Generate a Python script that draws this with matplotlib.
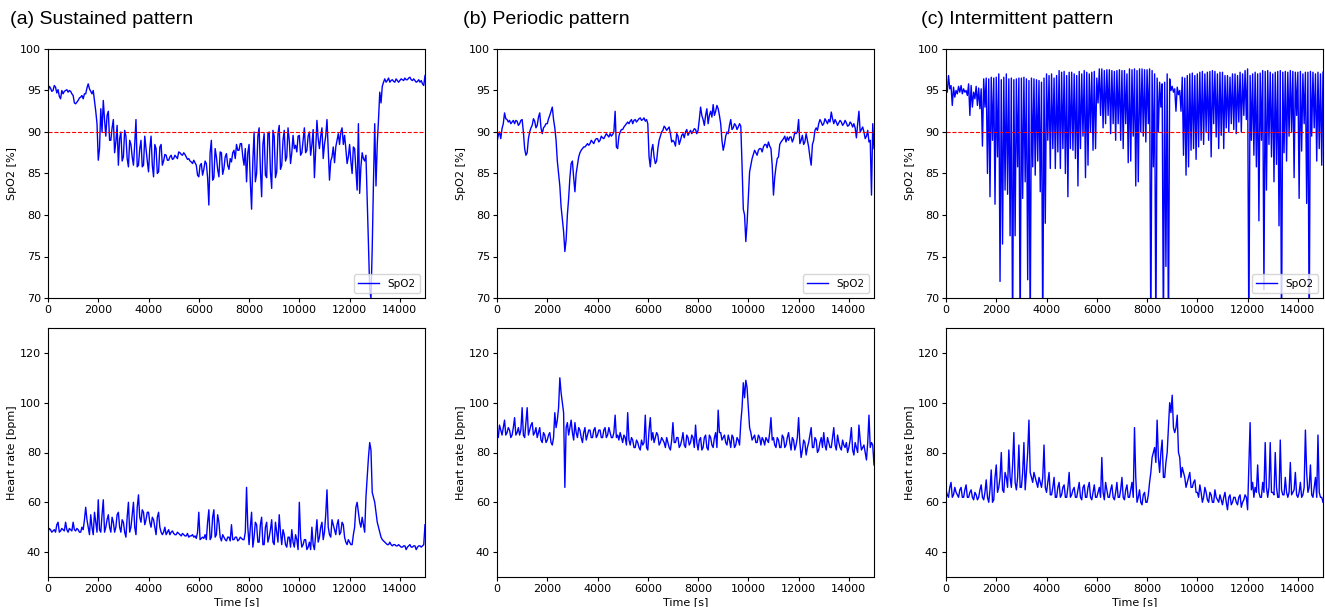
import numpy as np
import matplotlib
matplotlib.use("Agg")
import matplotlib.pyplot as plt

# time grid of the readings (s): values on the 100 s grid plus the
# in-between extremes read at the half steps
t = np.arange(0, 15001, 100)
t_half = np.arange(50, 15000, 100)

# (a) sustained pattern
spo2_a = [94.8, 95.3, 95.0, 95.4, 95.1, 94.0, 94.6, 95.0, 94.8, 94.9,
          94.4, 93.4, 93.8, 94.2, 94.0, 94.6, 95.8, 94.9, 95.0, 92.5,
          86.6, 92.8, 93.8, 89.5, 92.5, 89.0, 91.5, 88.8, 86.0, 90.0,
          87.0, 89.5, 85.8, 88.5, 86.0, 91.5, 86.0, 89.0, 86.0, 88.0,
          85.2, 89.5, 84.6, 88.0, 85.2, 88.5, 86.5, 87.2, 86.6, 87.2,
          86.8, 87.0, 87.6, 87.3, 87.5, 87.0, 86.8, 86.4, 86.6, 86.0,
          84.6, 86.2, 85.5, 86.2, 81.2, 89.0, 84.5, 87.0, 84.6, 87.5,
          85.6, 87.4, 85.5, 86.4, 87.8, 88.5, 87.8, 88.6, 86.0, 84.0,
          88.5, 80.7, 90.0, 85.0, 90.5, 82.2, 89.8, 84.5, 90.0, 83.2,
          89.5, 85.2, 90.8, 86.0, 90.2, 87.0, 89.0, 87.5, 88.0, 87.6,
          89.6, 87.5, 90.5, 87.8, 90.0, 88.5, 84.5, 91.4, 88.0, 90.5,
          88.5, 91.5, 84.2, 87.0, 86.3, 89.0, 88.5, 90.5, 89.6, 86.2,
          88.5, 85.0, 88.0, 83.0, 82.6, 87.5, 86.5, 82.0, 71.0, 76.0,
          91.0, 88.5, 94.8, 95.5, 96.4, 96.2, 96.0, 96.3, 96.0, 96.2,
          96.2, 96.3, 96.5, 96.3, 96.6, 96.2, 96.2, 96.1, 96.0, 95.8,
          96.8]
spo2_a_mid = [95.5, 94.9, 95.6, 94.7, 94.3, 95.0, 94.9, 95.1, 95.0, 94.6,
              93.5, 93.6, 94.1, 94.4, 94.6, 95.3, 95.2, 94.6, 93.8, 91.0,
              88.0, 90.0, 91.5, 92.0, 89.0, 90.5, 87.5, 90.8, 89.2, 86.5,
              90.2, 86.8, 89.0, 87.0, 88.5, 85.8, 88.0, 85.8, 89.5, 86.5,
              88.0, 86.0, 88.5, 85.0, 88.2, 86.0, 87.3, 86.6, 87.0, 86.7,
              87.2, 86.8, 87.5, 87.2, 87.3, 86.7, 86.5, 86.2, 86.3, 84.8,
              86.0, 84.8, 86.5, 84.5, 87.5, 84.2, 88.0, 85.5, 87.6, 84.9,
              87.0, 86.0, 86.8, 87.5, 86.8, 87.8, 88.6, 87.0, 88.0, 87.5,
              84.0, 86.5, 84.0, 89.5, 85.5, 88.5, 84.8, 89.8, 85.2, 90.2,
              84.5, 89.8, 85.5, 89.0, 86.5, 90.5, 86.2, 89.6, 88.4, 89.5,
              87.2, 89.0, 87.5, 89.5, 87.2, 90.3, 87.8, 89.2, 89.5, 86.8,
              89.5, 88.0, 86.5, 88.2, 88.2, 89.8, 90.0, 88.5, 88.0, 87.0,
              86.5, 88.2, 85.5, 91.0, 85.8, 86.8, 87.2, 76.5, 70.0, 84.0,
              83.5, 91.5, 93.5, 96.0, 96.0, 96.5, 96.2, 96.1, 96.4, 96.0,
              96.4, 96.2, 96.3, 96.5, 96.3, 96.4, 96.0, 96.3, 96.2, 95.6]
hr_a = [48, 49, 48.5, 48, 52, 48.5, 49, 52, 48, 49,
        52, 48.5, 49, 48, 49, 58, 50, 55, 47, 52,
        61, 48, 61, 50, 55, 48, 52, 50, 56, 48,
        52, 46, 60, 50, 60, 47, 63, 52, 56, 53,
        56, 50, 53, 47, 56, 48, 48, 47, 49, 48,
        47.5, 47, 47.5, 46.5, 47, 46.5, 46, 46.5, 46, 45.5,
        56, 45.5, 45.5, 45, 57, 46, 57, 47, 52, 44.5,
        46, 44.5, 46, 51, 45, 46, 45, 45.5, 45, 66,
        43, 56, 46, 51, 44, 54, 43, 52, 46, 53,
        43, 48, 55, 43, 47, 42, 46, 49, 42, 45,
        60, 42, 45, 41, 44, 50, 41, 53, 46, 52,
        48, 65, 47, 53, 49, 51, 47, 52, 46, 43,
        44, 43, 50, 60, 52, 54, 48, 70, 84, 64,
        60, 52, 48, 45, 44, 43, 44, 42.5, 43, 42.5,
        42.5, 42, 42.5, 42, 43, 42, 42.5, 42, 42.5, 42.5,
        51]
hr_a_mid = [49.5, 48, 49, 51, 48, 49.5, 48.5, 49, 49.5, 48.5,
            49, 49.5, 48, 50, 53, 53, 47, 50, 56, 48,
            49, 55, 48, 53, 50, 54, 48, 55, 50, 53,
            48, 54, 48, 55, 50, 58, 54, 57, 51, 56,
            52, 54, 50, 54, 50, 47, 50, 48, 47, 48.5,
            47, 48, 47, 47.5, 46.5, 47.5, 46.5, 47, 46.5, 48,
            45, 46, 47, 52, 45, 54, 46, 55, 46, 47,
            45, 46, 44.5, 45, 46, 44.5, 46, 45, 48, 50,
            50, 42, 52, 44, 51, 43, 50, 44, 49, 44,
            52, 44, 48, 49, 43, 46, 42, 44, 47, 41,
            46, 43, 45, 42, 41, 43, 47, 44, 50, 45,
            55, 50, 46, 51, 47, 53, 48, 51, 44, 45,
            43, 47, 58, 56, 50, 51, 62, 78, 81, 62,
            56, 50, 46, 44.5, 43.5, 43, 43, 43, 42.5, 43,
            42, 42.5, 41, 42.5, 42, 42.5, 41, 42.5, 42, 43]

# (b) periodic pattern
spo2_b = [88.8, 90.0, 90.4, 92.3, 91.5, 91.4, 91.2, 91.0, 91.3, 91.0,
          91.5, 88.0, 87.5, 90.0, 90.8, 91.3, 90.8, 92.3, 89.8, 90.7,
          91.0, 92.0, 93.0, 90.5, 86.5, 83.5, 79.5, 75.6, 80.0, 84.5,
          86.5, 82.8, 86.0, 87.5, 88.0, 88.2, 88.6, 88.6, 88.8, 89.0,
          89.2, 89.0, 89.3, 89.5, 89.6, 89.8, 89.7, 92.5, 88.0, 90.0,
          90.3, 90.8, 91.2, 91.3, 91.0, 91.5, 91.4, 91.7, 91.5, 91.3,
          91.0, 85.8, 88.5, 86.2, 88.0, 89.5, 90.2, 90.5, 90.4, 89.8,
          89.0, 88.3, 89.5, 89.0, 89.8, 90.0, 89.6, 90.2, 90.1, 90.3,
          90.2, 93.0, 91.5, 92.0, 91.0, 92.5, 93.3, 92.5, 92.8, 91.0,
          87.8, 89.5, 89.8, 91.5, 90.5, 90.8, 90.6, 90.7, 80.7, 76.8,
          82.0, 86.0, 87.3, 87.5, 87.8, 88.0, 88.2, 88.5, 88.8, 88.0,
          82.4, 85.8, 87.0, 88.8, 89.2, 88.8, 89.0, 89.4, 89.2, 89.8,
          91.5, 89.0, 88.5, 89.8, 88.2, 86.0, 89.0, 90.5, 91.0, 91.2,
          91.0, 91.3, 91.5, 92.4, 91.0, 91.2, 91.1, 91.2, 91.0, 91.1,
          90.8, 91.0, 91.0, 89.3, 92.5, 90.3, 90.0, 89.5, 88.8, 82.4,
          88.0]
spo2_b_mid = [89.6, 89.2, 91.0, 91.6, 91.2, 91.0, 91.4, 91.4, 90.8, 91.4,
              90.0, 87.2, 89.2, 90.5, 91.6, 90.5, 91.8, 90.5, 90.5, 91.0,
              91.6, 92.5, 91.5, 89.0, 85.0, 81.0, 78.0, 77.0, 82.0, 86.2,
              84.5, 85.0, 87.0, 87.8, 88.2, 88.4, 88.4, 89.0, 88.6, 89.2,
              88.8, 89.5, 89.2, 89.8, 89.4, 89.5, 90.0, 88.2, 89.5, 90.3,
              90.6, 91.0, 91.0, 91.5, 91.4, 91.2, 91.6, 91.4, 91.7, 91.5,
              87.0, 87.8, 87.0, 86.5, 89.0, 90.0, 90.7, 90.2, 90.6, 88.8,
              88.8, 89.8, 88.5, 89.6, 89.3, 90.3, 89.9, 89.8, 90.4, 89.8,
              91.5, 92.0, 90.8, 92.8, 92.0, 91.8, 92.0, 93.2, 92.0, 89.0,
              88.5, 90.0, 90.8, 90.3, 91.0, 90.3, 91.0, 86.0, 80.0, 79.0,
              85.2, 86.8, 87.8, 87.2, 88.0, 87.6, 88.5, 88.1, 88.3, 86.0,
              84.5, 86.8, 88.5, 89.0, 89.5, 89.4, 89.4, 88.8, 90.0, 90.0,
              88.6, 89.6, 88.8, 89.0, 87.0, 88.5, 90.2, 90.2, 91.5, 90.8,
              91.6, 91.0, 91.2, 91.6, 91.5, 90.8, 91.4, 90.8, 91.4, 90.7,
              91.2, 90.6, 90.5, 91.0, 90.0, 90.6, 89.2, 90.2, 89.0, 91.0]
hr_b = [88, 91, 87, 93, 88, 89, 87, 94, 88, 87,
        98, 86, 98, 89, 92, 88, 86, 90, 84, 87,
        85, 88, 83, 96, 93, 110, 100, 66, 92, 90,
        88, 92, 86, 89, 84, 90, 87, 89, 86, 90,
        87, 89, 86, 90, 87, 88, 86, 95, 87, 88,
        84, 86, 96, 83, 85, 82, 84, 81, 83, 95,
        81, 94, 88, 86, 87, 84, 85, 82, 84, 81,
        92, 84, 86, 83, 88, 82, 86, 84, 86, 91,
        81, 86, 82, 87, 81, 86, 82, 88, 97, 88,
        86, 84, 87, 82, 86, 83, 85, 92, 108, 109,
        98, 88, 86, 84, 87, 83, 85, 86, 84, 94,
        86, 82, 85, 82, 86, 83, 88, 81, 85, 83,
        94, 78, 85, 79, 84, 90, 82, 85, 81, 86,
        88, 81, 84, 82, 90, 81, 84, 81, 83, 84,
        82, 90, 79, 82, 91, 81, 83, 77, 95, 84,
        75]
hr_b_mid = [86, 89, 90, 87, 90, 86, 90, 87, 90, 89,
            87, 92, 87, 91, 87, 90, 88, 85, 88, 84,
            87, 84, 86, 90, 98, 104, 96, 90, 87, 93,
            85, 88, 90, 86, 88, 85, 89, 86, 89, 86,
            89, 86, 89, 86, 90, 86, 88, 86, 85, 86,
            87, 83, 85, 86, 82, 85, 82, 85, 84, 82,
            89, 85, 84, 88, 83, 86, 84, 86, 82, 85,
            84, 86, 82, 85, 83, 87, 83, 87, 82, 84,
            85, 81, 86, 82, 87, 83, 86, 82, 88, 85,
            87, 83, 85, 87, 82, 86, 83, 98, 102, 106,
            90, 85, 87, 84, 86, 86, 83, 85, 88, 85,
            83, 86, 82, 87, 82, 86, 84, 86, 81, 86,
            84, 81, 84, 82, 87, 82, 86, 80, 84, 82,
            83, 86, 82, 86, 83, 87, 82, 85, 82, 80,
            85, 81, 84, 80, 85, 82, 80, 84, 82, 83]

# (c) intermittent pattern
spo2_c = [95.0, 96.8, 95.6, 95.4, 95.0, 95.5, 95.6, 95.2, 95.0, 95.8,
          95.6, 94.8, 95.5, 95.3, 95.2, 96.4, 96.5, 96.4, 96.6, 96.5,
          96.6, 97.0, 96.3, 96.6, 97.0, 96.4, 96.5, 96.3, 96.4, 96.5,
          96.5, 96.6, 96.4, 96.2, 96.5, 96.4, 96.3, 96.2, 96.0, 96.5,
          97.0, 96.8, 97.0, 96.5, 96.8, 97.4, 97.2, 97.3, 96.8, 97.2,
          97.2, 97.0, 96.8, 97.3, 97.0, 97.4, 97.2, 97.0, 97.2, 97.3,
          96.5, 97.6, 97.6, 97.4, 97.5, 97.5, 97.4, 97.3, 97.4, 97.5,
          97.4, 97.4, 97.0, 97.6, 97.5, 97.6, 97.4, 97.6, 97.6, 97.5,
          97.5, 97.6, 97.4, 97.0, 96.5, 96.0, 95.8, 96.0, 97.0, 96.4,
          95.5, 95.2, 95.4, 95.0, 96.6, 96.5, 96.8, 97.0, 97.1, 96.8,
          97.0, 97.2, 97.3, 97.0, 97.2, 97.3, 97.4, 97.3, 97.0, 97.2,
          97.2, 96.8, 96.8, 96.6, 97.0, 97.0, 96.8, 97.2, 97.0, 97.4,
          97.6, 96.8, 97.0, 97.2, 97.0, 97.1, 97.4, 97.3, 97.4, 97.2,
          97.0, 97.2, 97.3, 97.4, 97.2, 97.3, 97.2, 97.4, 97.3, 97.2,
          97.2, 97.3, 97.0, 97.2, 97.2, 97.3, 97.2, 97.0, 97.2, 97.0,
          97.2]
spo2_c_mid = [94.8, 95.2, 93.2, 94.2, 94.6, 94.8, 94.6, 94.8, 94.4, 92.0,
              93.0, 94.0, 93.2, 92.8, 88.3, 93.0, 85.0, 82.2, 89.0, 81.3,
              87.0, 72.0, 76.5, 83.0, 82.5, 77.5, 65.0, 77.5, 85.8, 65.0,
              82.0, 84.0, 72.2, 65.0, 85.8, 84.8, 86.5, 82.8, 65.0, 79.0,
              89.0, 85.6, 88.0, 85.6, 87.6, 85.6, 88.0, 85.0, 82.2, 88.0,
              87.8, 86.8, 83.5, 88.0, 89.5, 84.5, 86.0, 90.0, 87.8, 88.0,
              93.5, 92.0, 90.5, 91.0, 92.0, 89.8, 91.0, 89.0, 91.0, 89.0,
              88.0, 91.0, 86.3, 86.5, 89.5, 83.5, 84.0, 90.0, 89.5, 88.8,
              91.0, 65.0, 85.8, 65.0, 90.0, 93.0, 65.0, 73.8, 65.0, 95.0,
              94.8, 92.5, 94.5, 92.5, 87.2, 84.8, 85.8, 87.8, 88.0, 86.7,
              88.2, 89.0, 88.5, 90.0, 89.0, 87.0, 91.0, 89.4, 88.0, 89.6,
              88.0, 90.5, 90.0, 91.0, 90.3, 89.8, 91.2, 90.0, 92.0, 91.5,
              65.0, 89.0, 87.2, 85.8, 79.3, 89.0, 71.0, 83.0, 88.5, 87.0,
              84.0, 86.1, 78.7, 65.0, 87.5, 86.5, 89.5, 90.0, 84.5, 92.0,
              82.0, 87.7, 91.0, 81.4, 65.0, 89.5, 90.5, 86.5, 88.0, 86.0]
hr_c = [65, 62, 68, 63, 64, 62, 66, 62, 67, 62,
        65, 61, 63, 62, 67, 61, 69, 60, 73, 61,
        75, 66, 80, 64, 70, 81, 66, 88, 65, 83,
        66, 84, 72, 93, 70, 72, 68, 70, 66, 83,
        64, 72, 63, 70, 62, 68, 63, 67, 62, 72,
        63, 66, 62, 68, 61, 67, 62, 68, 61, 67,
        62, 66, 78, 61, 65, 62, 67, 61, 68, 62,
        70, 61, 67, 62, 68, 90, 60, 65, 59, 64,
        60, 68, 78, 82, 93, 72, 85, 70, 80, 100,
        103, 88, 95, 78, 74, 70, 68, 72, 66, 69,
        64, 67, 60, 66, 61, 64, 60, 65, 61, 63,
        59, 64, 57, 63, 60, 62, 59, 63, 60, 63,
        57, 92, 68, 66, 75, 62, 68, 84, 62, 84,
        64, 80, 62, 85, 63, 70, 62, 76, 64, 72,
        62, 68, 63, 89, 64, 75, 62, 70, 87, 62,
        60]
hr_c_mid = [63, 66, 62, 66, 63, 65, 62, 65, 62, 64,
            62, 64, 61, 65, 62, 64, 62, 65, 60, 70,
            64, 70, 65, 72, 66, 70, 75, 68, 70, 66,
            72, 65, 80, 72, 68, 70, 66, 68, 70, 66,
            68, 63, 66, 62, 66, 62, 66, 62, 66, 62,
            65, 62, 65, 62, 66, 62, 66, 62, 64, 62,
            64, 62, 64, 68, 62, 65, 62, 64, 62, 65,
            62, 65, 62, 65, 62, 70, 62, 60, 63, 60,
            63, 72, 80, 76, 78, 80, 70, 76, 90, 96,
            90, 90, 80, 70, 72, 66, 70, 66, 68, 64,
            62, 64, 62, 64, 60, 63, 60, 62, 60, 61,
            62, 60, 62, 59, 62, 60, 62, 58, 61, 62,
            75, 65, 62, 64, 64, 62, 64, 66, 66, 64,
            63, 66, 62, 65, 63, 64, 64, 63, 65, 63,
            64, 62, 66, 72, 66, 63, 66, 62, 64, 62]


def interleave(main, mid):
    # merge grid readings and half-step readings into one time series
    x = np.empty(len(t) + len(t_half))
    y = np.empty(len(x))
    x[0::2] = t
    x[1::2] = t_half
    y[0::2] = main
    y[1::2] = mid
    return x, y


titles = ["(a) Sustained pattern", "(b) Periodic pattern", "(c) Intermittent pattern"]
spo2_series = [(spo2_a, spo2_a_mid), (spo2_b, spo2_b_mid), (spo2_c, spo2_c_mid)]
hr_series = [(hr_a, hr_a_mid), (hr_b, hr_b_mid), (hr_c, hr_c_mid)]

W, H = 1325, 607
fig = plt.figure(figsize=(W / 100, H / 100), dpi=100)

lefts = [48, 497, 946]
title_x = [10, 463, 921]
aw = 377
for i in range(3):
    ax1 = fig.add_axes([lefts[i] / W, (H - 298) / H, aw / W, 249 / H])
    ax2 = fig.add_axes([lefts[i] / W, (H - 577) / H, aw / W, 249 / H])

    x, y = interleave(*spo2_series[i])
    ax1.plot(x, y, color="blue", lw=1.0, label="SpO2")
    ax1.axhline(90, color="red", ls="--", lw=0.8)
    ax1.set_xlim(0, 15000)
    ax1.set_ylim(70, 100)
    ax1.set_ylabel("SpO2 [%]", fontsize=8, labelpad=2)
    ax1.legend(loc="lower right", fontsize=7.5)

    x, y = interleave(*hr_series[i])
    ax2.plot(x, y, color="blue", lw=1.0)
    ax2.set_xlim(0, 15000)
    ax2.set_ylim(30, 130)
    ax2.set_yticks([40, 60, 80, 100, 120])
    ax2.set_ylabel("Heart rate [bpm]", fontsize=8, labelpad=2)
    ax2.set_xlabel("Time [s]", fontsize=8, labelpad=2)

    for ax in (ax1, ax2):
        ax.tick_params(labelsize=8, length=3, pad=2)

    fig.text(title_x[i] / W, 1 - 20 / H, titles[i], fontsize=14,
             family="Liberation Sans", ha="left", va="center")

fig.savefig("out.png", dpi=100)
